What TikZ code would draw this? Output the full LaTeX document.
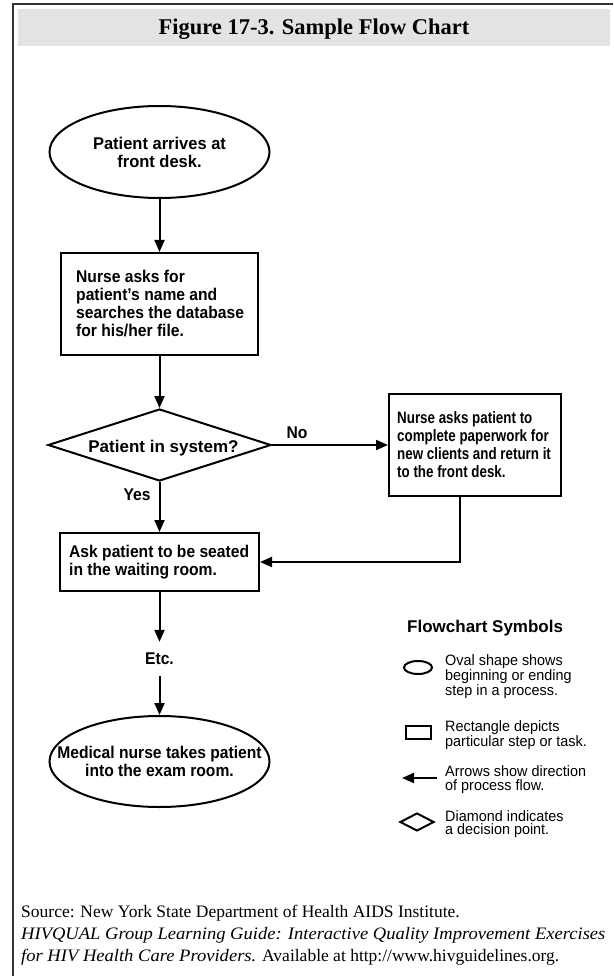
\documentclass[tikz,border=0pt]{standalone}
\usepackage{fontspec}
\setmainfont{Liberation Serif}
\newfontfamily\fcb{Liberation Sans}[FakeStretch=0.92]
\newfontfamily\fcbw{Liberation Sans}[FakeStretch=0.97]
\newfontfamily\fcbx{Liberation Sans}[FakeStretch=1.0]
\newfontfamily\fcbn{Liberation Sans}[FakeStretch=0.81]
\newfontfamily\fcr{Liberation Sans}[FakeStretch=0.96]
\newfontfamily\srcit{Liberation Serif}[FakeStretch=1.06]
\usetikzlibrary{shapes.geometric,arrows.meta}
\definecolor{framecol}{HTML}{333333}
\definecolor{barcol}{HTML}{E3E3E3}
\begin{document}
\begin{tikzpicture}[x=1pt,y=-1pt,
  thick line/.style={line width=2pt},
  arr/.style={line width=2pt,-{Triangle[length=12pt,width=10pt]}},
  boldtxt/.style={font=\fcb\bfseries\fontsize{17}{18}\selectfont},
  stepbox/.style={draw,line width=2pt,rectangle,inner sep=0pt},
  ovalshape/.style={draw,ellipse,line width=2pt,inner sep=0pt},
  decision/.style={draw,diamond,line width=2pt,inner sep=0pt},
  lbl/.style={boldtxt,inner sep=0pt},
  boxtxt/.style={boldtxt,inner sep=0pt,align=left,anchor=west},
  legtxt/.style={font=\fcr\fontsize{15}{13.5}\selectfont,align=left,inner sep=0pt,anchor=north west}
]
\useasboundingbox (0,0) rectangle (613,976);
% frame and title bar
\draw[framecol,line width=2pt] (13,976) -- (13,4.5) -- (613,4.5);
\fill[barcol] (18,9) rectangle (610,46);
\node[font=\bfseries\fontsize{22.5}{24}\selectfont,anchor=base,inner sep=0pt] (title) at (314,35) {Figure 17-3. Sample Flow Chart};

% flow chart
\node[ovalshape,minimum width=220pt,minimum height=92pt] (o1) at (159.5,152) {};
\node[lbl,align=center,font=\fcbw\bfseries\fontsize{17}{18}\selectfont] (o1t) at (o1) {Patient arrives at\\front desk.};

\node[stepbox,minimum width=197pt,minimum height=102pt] (r1) at (159.5,304) {};
\node[boxtxt] (r1t) at (76,304)
  {Nurse asks for\\patient’s name and\\searches the database\\for his/her file.};

\node[decision,minimum width=223pt,minimum height=72pt] (d) at (159.5,445) {};
\node[lbl,anchor=base,font=\fcbx\bfseries\fontsize{17}{18}\selectfont] (dt) at (163.5,452) {Patient in system?};

\node[stepbox,minimum width=172pt,minimum height=102pt] (r2) at (475,445) {};
\node[boxtxt,font=\fcbn\bfseries\fontsize{16.5}{18}\selectfont] (r2t) at (397,445)
  {Nurse asks patient to\\complete paperwork for\\new clients and return it\\to the front desk.};

\node[stepbox,minimum width=199pt,minimum height=58pt] (r3) at (159.5,562) {};
\node[boxtxt] (r3t) at (69,562)
  {Ask patient to be seated\\in the waiting room.};

\node[lbl,inner ysep=11pt] (etc) at (159.5,659) {Etc.};

\node[ovalshape,minimum width=220pt,minimum height=91pt] (o2) at (159.5,761.5) {};
\node[lbl,align=center] (o2t) at (o2) {Medical nurse takes patient\\into the exam room.};

\coordinate (c1) at (460,562);

\draw[arr] (o1) -- (r1);
\draw[arr] (r1) -- (d);
\draw[arr] (d.east) -- (r2.west);
\node[lbl,anchor=base] (no) at (297,438) {No};
\draw[arr] (d.south) -- (r3.north);
\node[lbl,anchor=base] (yes) at (137,500) {Yes};
\draw[arr] (r2.south -| c1) -- (c1) -- (r3.east);
\draw[arr] (r3.south) -- (etc.north);
\draw[arr] (etc.south) -- (o2.north);

% legend
\node[lbl,anchor=base west,font=\fcbx\bfseries\fontsize{17}{18}\selectfont] (legt) at (407,632) {Flowchart Symbols};
\node[ovalshape,minimum width=28pt,minimum height=13pt] (lo) at (418,667.5) {};
\node[legtxt] (lot) at (445,654) {Oval shape shows\\beginning or ending\\step in a process.};
\node[draw,thick line,rectangle,minimum width=25pt,minimum height=13pt,inner sep=0pt] (lr) at (418.5,732.5) {};
\node[legtxt] (lrt) at (445,720) {Rectangle depicts\\particular step or task.};
\coordinate (la1) at (437,778);
\coordinate (la2) at (402,778);
\draw[arr] (la1) -- (la2);
\node[legtxt] (lat) at (445,765.5) {Arrows show direction\\of process flow.};
\node[decision,minimum width=34pt,minimum height=18pt] (ld) at (417,822) {};
\node[legtxt] (ldt) at (445,810) {Diamond indicates\\a decision point.};

% source
\node[font=\fontsize{17.5}{22}\selectfont,align=left,inner sep=0pt,anchor=north west] (src) at (21,905)
  {Source: New York State Department of Health AIDS Institute.\\
   {\srcit\itshape HIVQUAL Group Learning Guide: Interactive Quality Improvement Exercises}\\
   {\srcit\itshape for HIV Health Care Providers.} Available at http://www.hivguidelines.org.};
\end{tikzpicture}
\end{document}
